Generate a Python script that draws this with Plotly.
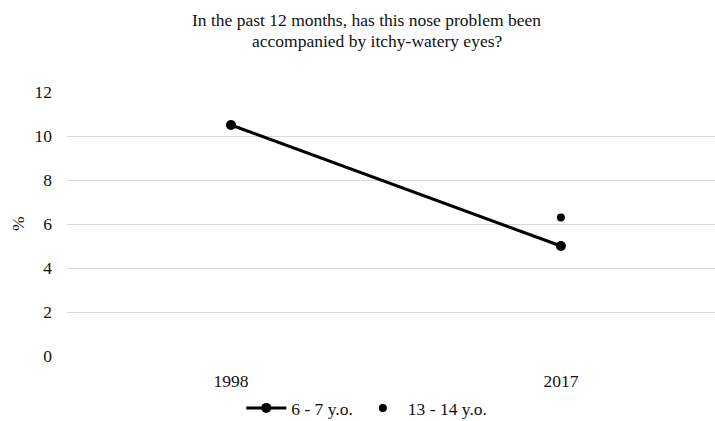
import plotly.graph_objects as go

categories = ["1998", "2017"]
series_6_7 = [10.5, 5.0]
series_13_14 = [None, 6.3]
y_ticks = [0, 2, 4, 6, 8, 10, 12]
title_lines = ["In the past 12 months, has this nose problem been",
               "accompanied by itchy-watery eyes?"]

FONT = "Liberation Serif, Times New Roman, serif"
FS = 17.5
TXT = "#111111"

fig = go.Figure()
fig.add_trace(go.Scatter(
    x=categories, y=series_6_7, name="6 - 7 y.o.",
    mode="lines+markers",
    line=dict(color="black", width=3),
    marker=dict(color="black", size=10),
))
fig.add_trace(go.Scatter(
    x=categories, y=series_13_14, name="13 - 14 y.o.",
    mode="markers",
    marker=dict(color="black", size=8),
))

PLOT_TOP, PLOT_H, PLOT_L, PLOT_W = 92, 264, 67, 648


def px_x(px):
    return (px - PLOT_L) / PLOT_W


def px_y(py):
    return 1 + (PLOT_TOP - py) / PLOT_H


fig.update_layout(
    width=715, height=421,
    margin=dict(l=PLOT_L, r=0, t=PLOT_TOP, b=65),
    paper_bgcolor="white", plot_bgcolor="white",
    font=dict(family=FONT, size=FS, color=TXT),
    showlegend=True,
    legend=dict(
        orientation="h", xref="container", yref="container",
        x=0.513, xanchor="center", y=1 - 408 / 421, yanchor="middle",
        font=dict(family=FONT, size=FS, color=TXT),
        itemwidth=40,
    ),
    xaxis=dict(
        type="category", range=[-0.497, 1.467],
        showgrid=False, zeroline=False, showline=False,
        ticks="", ticklabelstandoff=12,
    ),
    yaxis=dict(
        range=[0, 12], tickvals=y_ticks,
        showgrid=True, gridcolor="#d9d9d9", gridwidth=1,
        zeroline=False, showline=False, ticks="",
        ticklabelstandoff=14,
    ),
    annotations=[
        dict(
            text=title_lines[0], xref="paper", yref="paper",
            x=px_x(366), xanchor="center", y=px_y(20), yanchor="middle",
            showarrow=False, font=dict(family=FONT, size=FS, color=TXT),
        ),
        dict(
            text=title_lines[1], xref="paper", yref="paper",
            x=px_x(377), xanchor="center", y=px_y(41), yanchor="middle",
            showarrow=False, font=dict(family=FONT, size=FS, color=TXT),
        ),
        dict(
            text="%", xref="paper", yref="paper",
            x=px_x(18), xanchor="center",
            y=0.5, yanchor="middle", showarrow=False, textangle=-90,
            font=dict(family=FONT, size=FS, color=TXT),
        ),
    ],
)

fig.write_html(
    "out.html",
    config={"displayModeBar": False},
    post_script="document.body.style.margin='0';document.body.style.padding='0';",
)
